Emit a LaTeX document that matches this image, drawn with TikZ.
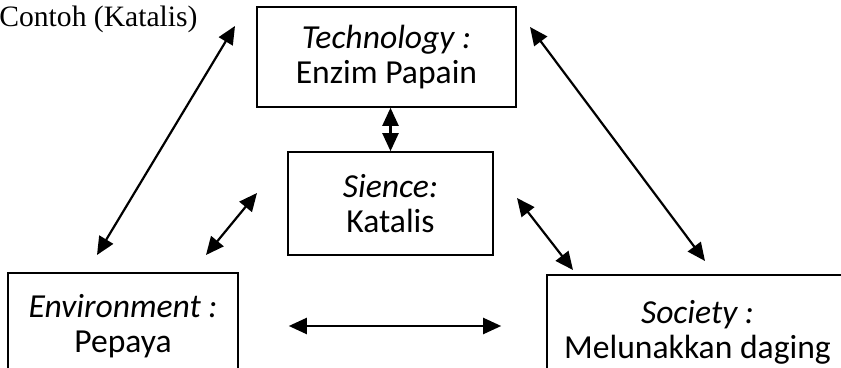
\documentclass[tikz,border=0pt]{standalone}
\usepackage{fontspec}
\setmainfont{Carlito}
\newfontfamily\judulfont{Liberation Serif}
\usetikzlibrary{arrows.meta}
\begin{document}
\begin{tikzpicture}[x=0.5pt,y=-0.5pt,
  kotak/.style={draw,line width=0.8pt,align=center,inner sep=0pt,
    font=\fontsize{16.8}{17.5}\selectfont},
  panah/.style={{Triangle[length=9pt,width=8pt]}-{Triangle[length=9pt,width=8pt]},line width=1.1pt}]
\useasboundingbox (0,0) rectangle (841,368);

\node[anchor=base west,font=\judulfont\fontsize{14.8}{18}\selectfont,inner sep=0pt] (judul) at (-1,27) {Contoh (Katalis)};

% kotak-kotak
\node[kotak,minimum width=129.5pt,minimum height=50pt] (tek) at (386.5,57) {\textit{Technology :}\\Enzim Papain};
\node[kotak,minimum width=102.5pt,minimum height=51.5pt] (sains) at (390.5,203.5) {\textit{Sience:}\\Katalis};
\node[kotak,minimum width=115pt,minimum height=53pt] (ling) at (123,326) {\textit{Environment :}\\Pepaya};
\node[kotak,minimum width=150.5pt,minimum height=57pt] (mas) at (697.5,332) {\textit{Society :}\\Melunakkan daging};

% ujung panah
\coordinate (a1) at (235,26);
\coordinate (a2) at (97,255);
\coordinate (b1) at (530,27);
\coordinate (b2) at (705,261);
\coordinate (c1) at (257,193);
\coordinate (c2) at (206,255);
\coordinate (d1) at (517,198);
\coordinate (d2) at (573,270);

\draw[panah] (sains.north) -- (sains.north |- tek.south);
\draw[panah] (a1) -- (a2);
\draw[panah] (b1) -- (b2);
\draw[panah] (c1) -- (c2);
\draw[panah] (d1) -- (d2);
\draw[panah,shorten <=25pt,shorten >=22.5pt] (ling.east) -- (ling.east -| mas.west);
\end{tikzpicture}
\end{document}
